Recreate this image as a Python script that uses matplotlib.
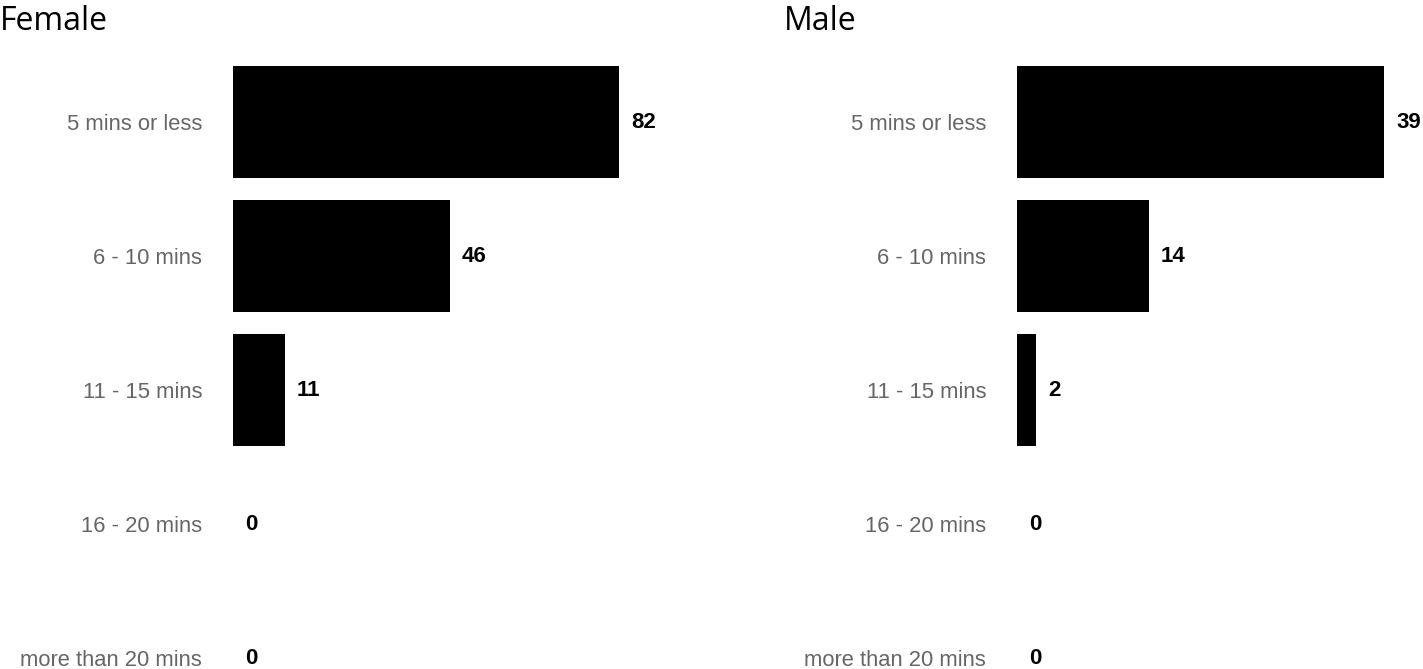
import matplotlib.pyplot as plt
from matplotlib.transforms import offset_copy

categories = ['5 mins or less', '6 - 10 mins', '11 - 15 mins', '16 - 20 mins', 'more than 20 mins']
female = [82, 46, 11, 0, 0]
male = [39, 14, 2, 0, 0]

W, H = 1423, 669
fig = plt.figure(figsize=(W / 100, H / 100), dpi=100)

# panel geometry in pixels: (title x, left edge of bars, px per unit)
panels = [
    ('Female', female, 0, 233, 386 / 82),
    ('Male', male, 784, 1017, 367 / 39),
]

row_px = 134
top_px = 55
n_rows = (H - top_px) / row_px

for title, vals, title_x, x0, ppu in panels:
    width_px = 400
    ax = fig.add_axes([x0 / W, 0, width_px / W, (H - top_px) / H])
    y = list(range(len(categories)))
    ax.barh(y, vals, height=112 / row_px, color='black')
    ax.set_xlim(0, width_px / ppu)
    ax.set_ylim(-0.5 + n_rows, -0.5)
    for sp in ax.spines.values():
        sp.set_visible(False)
    ax.set_xticks([])
    ax.set_yticks(y)
    ax.set_yticklabels(categories, fontsize=15.8, color='#666666',
                       family='Liberation Sans')
    ax.tick_params(axis='y', length=0, pad=22.3)
    trans = offset_copy(ax.transData, fig=fig, x=12, y=0, units='dots')
    for yi, v in zip(y, vals):
        ax.text(v, yi, str(v), transform=trans, ha='left', va='center',
                fontsize=16, fontweight='bold', family='Liberation Sans')
    fig.text(title_x / W, 1 - 30 / H, title, fontsize=23, family='Open Sans',
             ha='left', va='baseline')

fig.savefig('out.png', dpi=100)
